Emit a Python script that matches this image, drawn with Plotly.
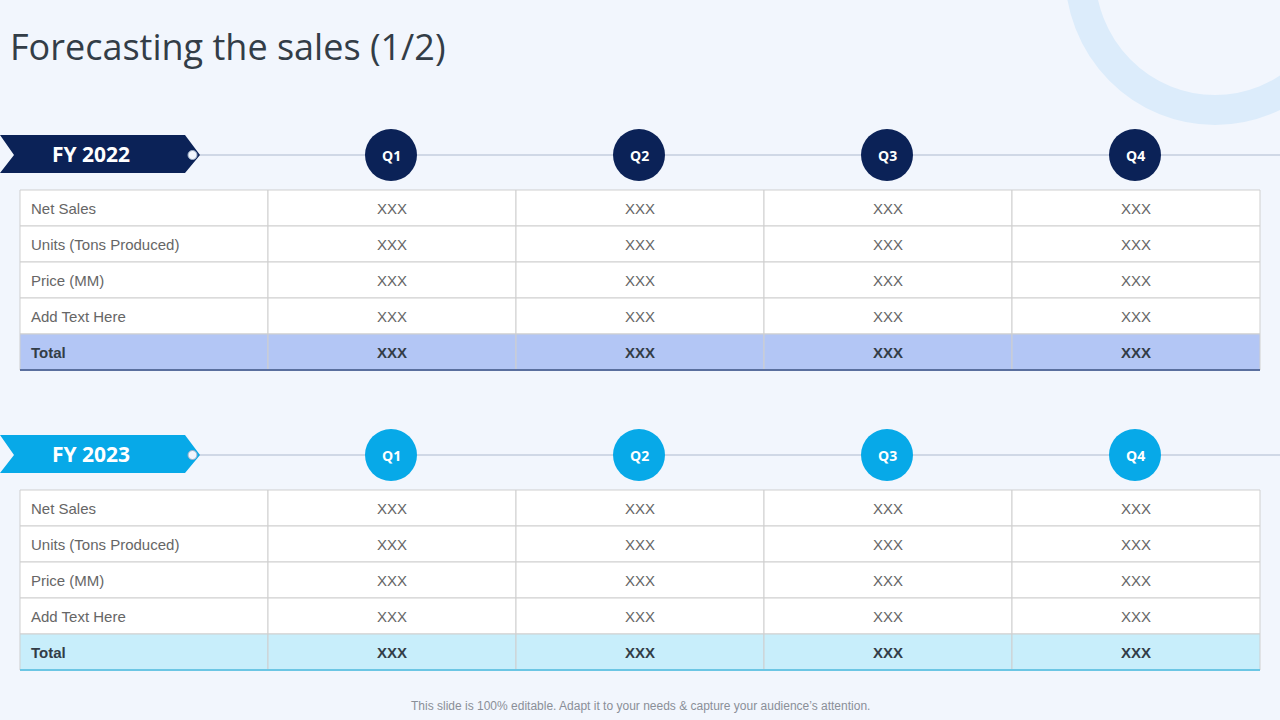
import plotly.graph_objects as go

title = "Forecasting the sales (1/2)"
footer = "This slide is 100% editable. Adapt it to your needs & capture your audience\u2019s attention."
years = ["FY 2022", "FY 2023"]
quarters = ["Q1", "Q2", "Q3", "Q4"]
row_labels = ["Net Sales", "Units (Tons Produced)", "Price (MM)", "Add Text Here", "Total"]
values_2022 = [["XXX"] * 4 for _ in range(5)]
values_2023 = [["XXX"] * 4 for _ in range(5)]

dark = ["#0b2257", "#07a9e8"]
total_fill = ["#b3c6f5", "#c8eefb"]
total_line = ["#5a6f9e", "#6cc6e4"]

col_edges = [20, 268, 516, 764, 1012, 1260]
row_h = 36
blocks = [(155, 190), (455, 490)]  # (header y, table top)

fig = go.Figure()
shapes, ann = [], []

# decorative ring
shapes.append(dict(type="circle", x0=1080, x1=1350, y0=-165, y1=110,
                   line=dict(color="#dcecfb", width=30), layer="below"))

for b, (hy, top) in enumerate(blocks):
    vals = [values_2022, values_2023][b]
    # header line
    shapes.append(dict(type="line", x0=198, x1=1280, y0=hy, y1=hy,
                       line=dict(color="#d0d8e6", width=2)))
    # badge
    path = f"M0,{hy-20} L185,{hy-20} L200,{hy} L185,{hy+18} L0,{hy+18} L14,{hy} Z"
    shapes.append(dict(type="path", path=path, fillcolor=dark[b], line=dict(width=0)))
    shapes.append(dict(type="circle", x0=188, x1=197, y0=hy-4.5, y1=hy+4.5,
                       fillcolor="#f2f6fd", line=dict(color="#9fb0c8", width=1)))
    ann.append(dict(x=91, y=hy - 1, text=f"<b>{years[b]}</b>", showarrow=False,
                    font=dict(family="Open Sans", size=21, color="white")))
    for q in range(4):
        cx = (col_edges[q + 1] + col_edges[q + 2]) / 2 - 1
        shapes.append(dict(type="circle", x0=cx - 26, x1=cx + 26, y0=hy - 26, y1=hy + 26,
                           fillcolor=dark[b], line=dict(width=0)))
        ann.append(dict(x=cx, y=hy, text=f"<b>{quarters[q]}</b>", showarrow=False,
                        font=dict(family="Open Sans", size=14, color="white")))
    # table
    for r, lab in enumerate(row_labels):
        y0 = top + r * row_h
        y1 = y0 + row_h
        is_total = r == len(row_labels) - 1
        fill = total_fill[b] if is_total else "white"
        for c in range(5):
            shapes.append(dict(type="rect", x0=col_edges[c], x1=col_edges[c + 1], y0=y0, y1=y1,
                               fillcolor=fill, line=dict(color="#cfcfcf", width=1)))
        f = dict(family="Liberation Sans", size=15,
                 color="#333d47" if is_total else "#666666")
        ann.append(dict(x=29, y=(y0 + y1) / 2, xanchor="left",
                        text=f"<b>{lab}</b>" if is_total else lab, showarrow=False, font=f))
        for c in range(4):
            t = vals[r][c]
            ann.append(dict(x=(col_edges[c + 1] + col_edges[c + 2]) / 2, y=(y0 + y1) / 2,
                            text=f"<b>{t}</b>" if is_total else t, showarrow=False, font=f))
        if is_total:
            shapes.append(dict(type="line", x0=20, x1=1260, y0=y1, y1=y1,
                               line=dict(color=total_line[b], width=2)))

ann.append(dict(x=8, y=46, xanchor="left", text=title, showarrow=False,
                font=dict(family="Open Sans", size=36, color="#333d47")))
ann.append(dict(x=640, y=706, text=footer, showarrow=False,
                font=dict(family="Liberation Sans", size=12, color="#8a8f98")))

fig.update_layout(
    width=1280, height=720, margin=dict(l=0, r=0, t=0, b=0),
    paper_bgcolor="#f2f6fd", plot_bgcolor="#f2f6fd",
    xaxis=dict(range=[0, 1280], visible=False, fixedrange=True),
    yaxis=dict(range=[720, 0], visible=False, fixedrange=True),
    shapes=shapes, annotations=ann, showlegend=False,
)
fig.write_html("out.html", config={"displayModeBar": False})

# drop the page's default body margin so the slide fills the window
with open("out.html", encoding="utf-8") as fh:
    html = fh.read()
html = html.replace("<head>", "<head><style>body{margin:0;overflow:hidden;background:#f2f6fd}</style>", 1)
with open("out.html", "w", encoding="utf-8") as fh:
    fh.write(html)
